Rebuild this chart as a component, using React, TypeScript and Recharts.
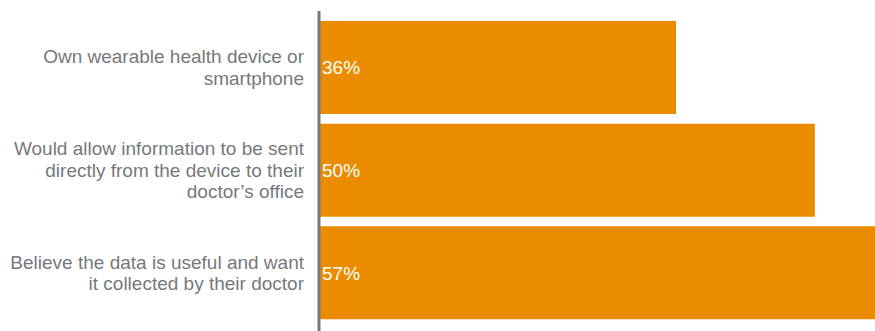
import React from 'react';
import { BarChart, Bar, XAxis, YAxis, LabelList } from 'recharts';

const categories = [
  'Own wearable health device or smartphone',
  'Would allow information to be sent directly from the device to their doctor’s office',
  'Believe the data is useful and want it collected by their doctor',
];
const labelLines = [
  ['Own wearable health device or', 'smartphone'],
  ['Would allow information to be sent', 'directly from the device to their', 'doctor’s office'],
  ['Believe the data is useful and want', 'it collected by their doctor'],
];
const values = [36, 50, 57];

const data = categories.map((c, i) => ({ name: c, value: values[i], idx: i }));

const FONT = 'Liberation Sans, Arial, sans-serif';
const GRAY = '#77787B';
const ORANGE = '#EB8C00';

const Tick = (props: any) => {
  const { x, y, payload } = props;
  const i = categories.indexOf(payload.value);
  const lines = i >= 0 ? labelLines[i] : [String(payload.value)];
  const lh = 21.5;
  const start = -((lines.length - 1) / 2) * lh;
  return (
    <text x={x} y={y} textAnchor="end" fill={GRAY} fontFamily={FONT} fontSize={19}>
      {lines.map((l, k) => (
        <tspan key={k} x={x} y={y + start + k * lh} dy="0.35em">
          {l}
        </tspan>
      ))}
    </text>
  );
};

export default function App() {
  return (
    <div style={{ position: 'absolute', left: 0, top: 0, width: 875, height: 331, overflow: 'hidden', background: '#fff' }}>
      <BarChart
        width={914}
        height={331}
        data={data}
        layout="vertical"
        margin={{ top: 11, right: 0, bottom: 0, left: 0 }}
      >
        <XAxis type="number" domain={[0, 60]} hide />
        <YAxis
          type="category"
          dataKey="name"
          width={319}
          tickLine={false}
          tickSize={0}
          tickMargin={15}
          axisLine={{ stroke: GRAY, strokeWidth: 3 }}
          padding={{ top: 5, bottom: 7 }}
          tick={<Tick />}
          interval={0}
        />
        <Bar dataKey="value" fill={ORANGE} barSize={93} isAnimationActive={false}>
          <LabelList
            dataKey="value"
            position="insideLeft"
            offset={3}
            formatter={(v: any) => `${v}%`}
            fill="#FFFFFF"
            fontFamily={FONT}
            fontSize={19}
          />
        </Bar>
      </BarChart>
    </div>
  );
}
